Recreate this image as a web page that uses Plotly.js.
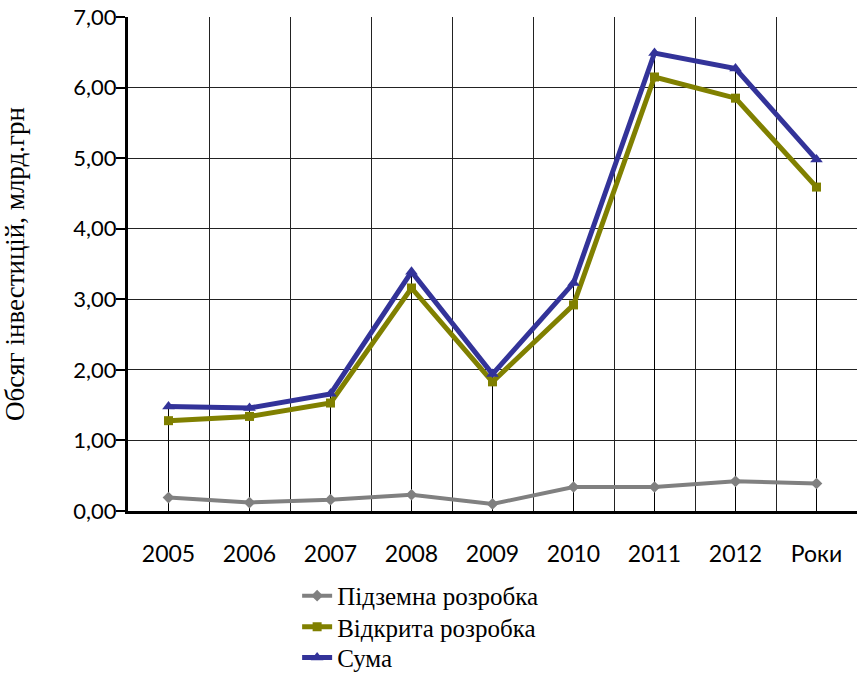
<!DOCTYPE html>
<html>
<head>
<meta charset="utf-8">
<script src="https://cdn.plot.ly/plotly-3.0.1.min.js"></script>
<style>html,body{margin:0;padding:0;background:#fff;}#chart{width:857px;height:675px;}</style>
</head>
<body>
<div id="chart"></div>
<script>
var categories = ['2005', '2006', '2007', '2008', '2009', '2010', '2011', '2012', 'Роки'];
var underground = [0.19, 0.12, 0.16, 0.23, 0.10, 0.34, 0.34, 0.42, 0.39];
var openPit = [1.28, 1.34, 1.53, 3.16, 1.83, 2.92, 6.15, 5.85, 4.59];
var total = [1.48, 1.46, 1.66, 3.39, 1.94, 3.23, 6.49, 6.27, 4.98];
var seriesNames = ['Підземна розробка', 'Відкрита розробка', 'Сума'];
var yTicks = [0, 1, 2, 3, 4, 5, 6, 7];

// drop lines from the highest point of each category down to the axis
var dropX = [], dropY = [];
categories.forEach(function (c, i) {
  dropX.push(c, c, null);
  dropY.push(0, total[i], null);
});

var traces = [
  {x: dropX, y: dropY, type: 'scatter', mode: 'lines', showlegend: false, hoverinfo: 'skip',
   line: {color: '#000000', width: 1}},
  {x: categories, y: underground, name: seriesNames[0], type: 'scatter', mode: 'lines+markers',
   legend: 'legend',
   line: {color: '#808080', width: 4}, marker: {symbol: 'diamond', size: 9, color: '#808080'}},
  {x: categories, y: openPit, name: seriesNames[1], type: 'scatter', mode: 'lines+markers',
   legend: 'legend2',
   line: {color: '#808000', width: 5}, marker: {symbol: 'square', size: 9, color: '#808000'}},
  {x: categories, y: total, name: seriesNames[2], type: 'scatter', mode: 'lines+markers',
   legend: 'legend3',
   line: {color: '#333399', width: 5}, marker: {symbol: 'triangle-up', size: 11, color: '#333399'}}
];

var legendFont = {family: '"Liberation Serif", "Times New Roman", serif', size: 25, color: '#000000'};
function legendAt(yPos) {
  return {orientation: 'v', x: 0.232, xanchor: 'left', y: yPos, yanchor: 'middle',
          font: legendFont, bgcolor: 'rgba(0,0,0,0)', borderwidth: 0};
}

var yTickFont = {family: 'Lato, "Open Sans", sans-serif', size: 22, color: '#000000'};
var xTickFont = {family: 'Lato, "Open Sans", sans-serif', size: 23, color: '#000000'};

var layout = {
  width: 857, height: 675,
  margin: {l: 128, r: 0, t: 17, b: 164, autoexpand: false},
  paper_bgcolor: '#ffffff', plot_bgcolor: '#ffffff',
  separators: ',.',
  font: {family: 'Lato, "Open Sans", sans-serif', size: 22, color: '#000000'},
  showlegend: true,
  legend: legendAt(-0.172),
  legend2: legendAt(-0.235),
  legend3: legendAt(-0.297),
  xaxis: {
    type: 'category', categoryorder: 'array', categoryarray: categories,
    range: [-0.5, 8.5], tickson: 'boundaries',
    showgrid: true, gridcolor: '#222222', gridwidth: 1,
    showline: true, linecolor: '#000000', linewidth: 3,
    ticks: '', ticklabelstandoff: 20,
    tickfont: xTickFont,
    zeroline: false, fixedrange: true, automargin: false
  },
  yaxis: {
    range: [0, 7], tickvals: yTicks, tickformat: '.2f',
    showgrid: true, gridcolor: '#222222', gridwidth: 1,
    showline: true, linecolor: '#000000', linewidth: 3,
    ticks: 'outside', ticklen: 9, tickwidth: 2, tickcolor: '#000000',
    ticklabelstandoff: -5,
    tickfont: yTickFont,
    zeroline: false, fixedrange: true, automargin: false,
    title: {text: 'Обсяг інвестицій, млрд.грн', standoff: 46,
            font: {family: '"Liberation Serif", "Times New Roman", serif', size: 27, color: '#000000'}}
  }
};

Plotly.newPlot('chart', traces, layout, {displayModeBar: false, staticPlot: true});
</script>
</body>
</html>
